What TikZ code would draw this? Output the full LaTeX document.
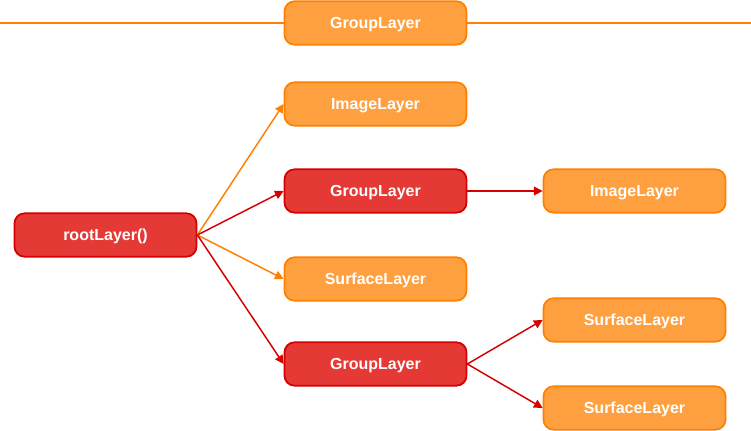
\documentclass[tikz,border=0pt]{standalone}
\usepackage{fontspec}
\setmainfont{Liberation Sans}
\usetikzlibrary{arrows.meta}
\definecolor{orfill}{HTML}{FFA040}
\definecolor{orline}{HTML}{FF8000}
\definecolor{rdfill}{HTML}{E53935}
\definecolor{rdline}{HTML}{D50000}
\tikzset{
  layer/.style={rounded corners=7.5pt,minimum width=136.5pt,minimum height=32.5pt,
    line width=1.3pt,text=white,font=\bfseries\fontsize{12}{14}\selectfont,
    inner sep=0pt,text depth=0pt},
  orbox/.style={layer,draw=orline,fill=orfill},
  rdbox/.style={layer,draw=rdline,fill=rdfill},
  orarr/.style={draw=orline,line width=1.1pt,-{Triangle[length=6.5pt,width=6.5pt]}},
  rdarr/.style={draw=rdline,line width=1.1pt,-{Triangle[length=6.5pt,width=6.5pt]}}
}
\begin{document}
\begin{tikzpicture}[x=0.75pt,y=-0.75pt]
        \useasboundingbox (0,0) rectangle (751,431);
        \node[orbox] (top) at (375.5,23) {GroupLayer};
        \draw[orline,line width=1.1pt] (0,23) -- (top.west);
        \draw[orline,line width=1.1pt] (top.east) -- (751,23);
        \node[rdbox] (root) at (105.5,235) {rootLayer()};
        \node[orbox] (img1) at (375.5,104) {ImageLayer};
        \node[rdbox] (grp1) at (375.5,191) {GroupLayer};
        \node[orbox] (surf1) at (375.5,279) {SurfaceLayer};
        \node[rdbox] (grp2) at (375.5,364) {GroupLayer};
        \node[orbox] (img2) at (634.5,191) {ImageLayer};
        \node[orbox] (surf2) at (634.5,320) {SurfaceLayer};
        \node[orbox] (surf3) at (634.5,408) {SurfaceLayer};
        \draw[orarr] (root.east) -- (img1.west);
        \draw[rdarr] (root.east) -- (grp1.west);
        \draw[orarr] (root.east) -- (surf1.west);
        \draw[rdarr] (root.east) -- (grp2.west);
        \draw[rdarr] (grp1.east) -- (img2.west);
        \draw[rdarr] (grp2.east) -- (surf2.west);
        \draw[rdarr] (grp2.east) -- (surf3.west);
\end{tikzpicture}
\end{document}
